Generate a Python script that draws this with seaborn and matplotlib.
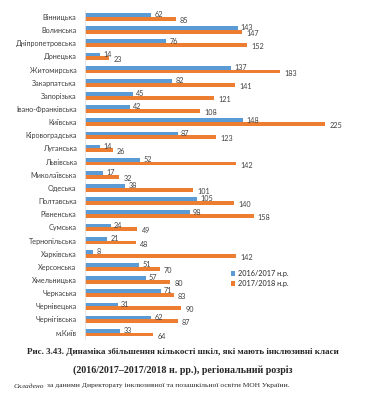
import pandas as pd
import matplotlib.pyplot as plt
import seaborn as sns

# -----------------------------
# Data
# -----------------------------
regions = ["Вінницька", "Волинська", "Дніпропетровська", "Донецька", "Житомирська",
           "Закарпатська", "Запорізька", "Івано-Франківська", "Київська", "Кіровоградська",
           "Луганська", "Львівська", "Миколаївська", "Одеська", "Полтавська",
           "Рівненська", "Сумська", "Тернопільська", "Харківська", "Херсонська",
           "Хмельницька", "Черкаська", "Чернівецька", "Чернігівська", "м.Київ"]
y2016 = [62, 143, 76, 14, 137, 82, 45, 42, 148, 87, 14, 52, 17, 38, 105,
         98, 24, 21, 8, 51, 57, 71, 31, 62, 33]
y2017 = [85, 147, 152, 23, 183, 141, 121, 108, 225, 123, 26, 142, 32, 101, 140,
         158, 49, 48, 142, 70, 80, 83, 90, 87, 64]
series = ["2016/2017 н.р.", "2017/2018 н.р."]
colors = ["#5B9BD5", "#ED7D31"]

df = pd.DataFrame({
    "region": regions * 2,
    "value": y2016 + y2017,
    "year": [series[0]] * len(regions) + [series[1]] * len(regions),
})

# -----------------------------
# Plot
# -----------------------------
sns.set_style("white")
plt.rcParams["font.family"] = ["Lato", "DejaVu Sans"]

fig = plt.figure(figsize=(3.66, 4.0), dpi=100)
ax = fig.add_axes([0.232, 0.152, 0.70, 0.822])

sns.barplot(data=df, y="region", x="value", hue="year", order=regions,
            hue_order=series, palette=colors, orient="h", width=0.58,
            saturation=1, linewidth=0, ax=ax)

# value labels
for i, cont in enumerate(ax.containers):
    for bar, v in zip(cont, [y2016, y2017][i]):
        yc = bar.get_y() + bar.get_height() / 2
        if i == 0:
            ax.text(bar.get_width() + 3, yc - 0.02, str(v), fontsize=5.2,
                    va="center", ha="left", color="#404040")
        else:
            ax.text(bar.get_width() + 4, yc + 0.12, str(v), fontsize=5.2,
                    va="center", ha="left", color="#404040")

ax.set_xlim(0, 240)
ax.set_ylim(24.5, -0.5)
ax.set_xlabel("")
ax.set_ylabel("")
ax.set_xticks([])
ax.tick_params(axis="y", length=0, labelsize=5.2, pad=6, colors="#404040")
for s in ["top", "right", "bottom"]:
    ax.spines[s].set_visible(False)
ax.spines["left"].set_color("#e3e3e3")
ax.spines["left"].set_linewidth(0.6)

ax.legend(loc="upper left", bbox_to_anchor=(0.55, 0.225), frameon=False,
          fontsize=5.2, handlelength=0.6, handleheight=0.6, handletextpad=0.4,
          labelspacing=0.35, borderpad=0.2)

# caption
serif = ["Liberation Serif", "DejaVu Serif"]
fig.text(0.5, 1 - 352 / 400, "Рис. 3.43. Динаміка збільшення кількості шкіл, які мають інклюзивні класи",
         ha="center", va="center", fontsize=6.5, fontweight="bold", family=serif)
fig.text(0.5, 1 - 370 / 400, "(2016/2017–2017/2018 н. рр.), регіональний розріз",
         ha="center", va="center", fontsize=7.2, fontweight="bold", family=serif)
fig.text(14 / 366, 1 - 386 / 400, "Складено", ha="left", va="center", fontsize=5.4,
         style="italic", family=serif)
fig.text(47 / 366, 1 - 386 / 400, "за даними Директорату інклюзивної та позашкільної освіти МОН України.",
         ha="left", va="center", fontsize=5.4, family=serif)

plt.savefig("out.png", dpi=100)
